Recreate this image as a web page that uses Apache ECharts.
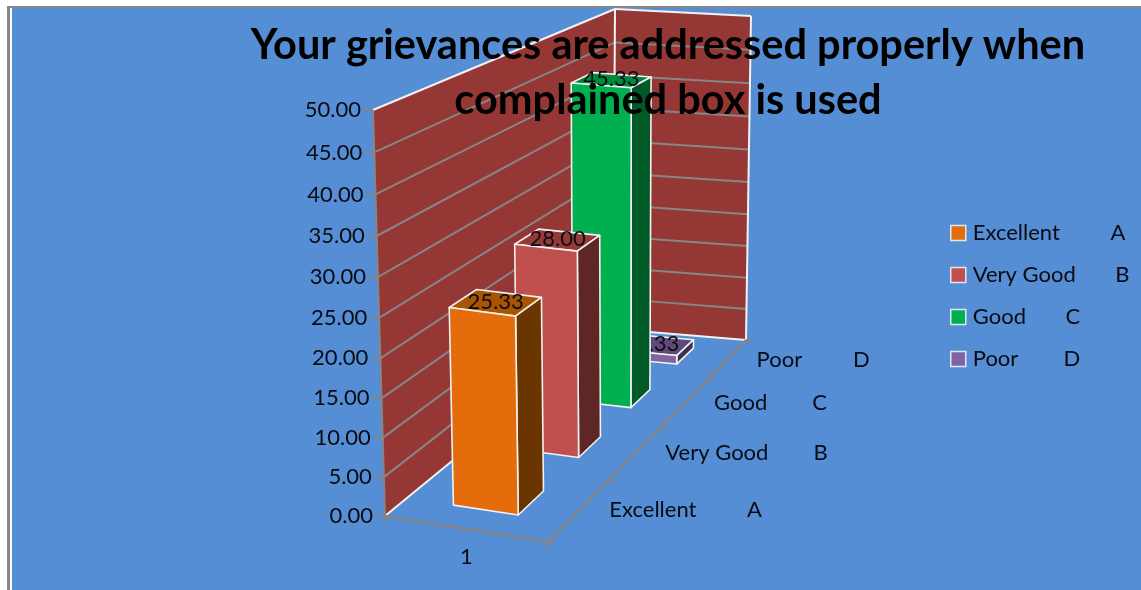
<!DOCTYPE html>
<html>
<head>
<meta charset="utf-8">
<title>Your grievances are addressed properly</title>
<script src="https://cdn.jsdelivr.net/npm/echarts@6/dist/echarts.min.js"></script>
<style>
  html, body { margin: 0; padding: 0; background: #fff; }
  #chart { width: 1141px; height: 590px; }
</style>
</head>
<body>
<div id="chart"></div>
<script>
const titleText = 'Your grievances are addressed properly when\ncomplained box is used';
const rowNames = ['Excellent', 'Very Good', 'Good', 'Poor'];
const axisRowLabels = ['Excellent         A', 'Very Good        B', 'Good        C', 'Poor         D'];
const legendLabels = ['Excellent         A', 'Very Good       B', 'Good       C', 'Poor        D'];
const rowValues = [25.33, 28.00, 45.33, 1.33];
const yTicks = [0, 5, 10, 15, 20, 25, 30, 35, 40, 45, 50];
const xLabels = ['1'];

const frontColors = ['#E46C0A', '#C0504D', '#00B050', '#8064A2'];
const topColors = ['#A85400', '#943A38', '#008A3E', '#604A7B'];
const sideColors = ['#6B3500', '#5E2726', '#005A28', '#40314F'];

const FONT = 'Lato';
const TEXT = '#0b0b12';
const GRAY = '#868686';
const WHITE = '#f2f2f2';

// corners of the 3D box on the page, (u, depth, height)
const box = {
  flb: [385, 516], frb: [548, 542], blb: [613, 329], brb: [746, 340],
  flt: [373, 110], frt: [544, 129], blt: [615, 9], brt: [751, 16]
};
const DEPTH_PERSP = 0.76;
const HEIGHT_PERSP = 1.05;
const BAR_U = [0.29, 0.695];
const BAR_DEPTH = 0.4; // share of the row band

const lerp = (a, b, t) => [a[0] + (b[0] - a[0]) * t, a[1] + (b[1] - a[1]) * t];

function project(u, d, v) {
  const dp = d / (d + DEPTH_PERSP * (1 - d));
  const vp = v / (v + HEIGHT_PERSP * (1 - v));
  const bottom = lerp(lerp(box.flb, box.blb, dp), lerp(box.frb, box.brb, dp), u);
  const top = lerp(lerp(box.flt, box.blt, dp), lerp(box.frt, box.brt, dp), u);
  return lerp(bottom, top, vp);
}

// read the value axis back as a 0..1 height
function heightOf(api, cs, value) {
  return (cs.y + cs.height - api.coord([0, value])[1]) / cs.height;
}

function poly(points, fill, stroke, lineWidth) {
  return {
    type: 'polygon',
    shape: { points: points },
    style: { fill: fill, stroke: stroke || null, lineWidth: lineWidth || 0, lineJoin: 'round' }
  };
}

function seg(a, b, color, width) {
  return {
    type: 'line',
    shape: { x1: a[0], y1: a[1], x2: b[0], y2: b[1] },
    style: { stroke: color, lineWidth: width, fill: null }
  };
}

function label(text, x, y, align) {
  return {
    type: 'text',
    style: {
      text: text, x: x, y: y, fill: TEXT, font: '22px ' + FONT,
      textAlign: align, textVerticalAlign: 'middle'
    }
  };
}

function renderWalls(params, api) {
  const cs = params.coordSys;
  const kids = [
    poly([project(0, 0, 0), project(0, 0, 1), project(0, 1, 1), project(0, 1, 0)], '#953735'),
    poly([project(0, 1, 0), project(0, 1, 1), project(1, 1, 1), project(1, 1, 0)], '#953735')
  ];

  yTicks.forEach((t) => {
    const v = heightOf(api, cs, t);
    const front = project(0, 0, v);
    if (t > 0 && t < 50) {
      kids.push(seg(front, project(0, 1, v), GRAY, 2));
      kids.push(seg(project(0, 1, v), project(1, 1, v), GRAY, 2));
    }
    kids.push(seg(front, [front[0] - 9, front[1]], GRAY, 2));
    kids.push(label(t.toFixed(2), front[0] - 12, front[1], 'right'));
  });

  // wall outline
  kids.push(seg(project(0, 0, 1), project(0, 1, 1), WHITE, 2));
  kids.push(seg(project(0, 1, 1), project(1, 1, 1), WHITE, 2));
  kids.push(seg(project(1, 1, 1), project(1, 1, 0), WHITE, 2));
  kids.push(seg(project(0, 1, 1), project(0, 1, 0), WHITE, 2));
  kids.push(seg(project(0, 0, 0), project(0, 1, 0), WHITE, 2));
  kids.push(seg(project(0, 1, 0), project(1, 1, 0), WHITE, 2));
  kids.push(seg(project(0, 0, 0), project(0, 0, 1), GRAY, 2));

  // floor axes
  kids.push(seg(project(0, 0, 0), project(1, 0, 0), GRAY, 2.5));
  kids.push(seg(project(1, 0, 0), project(1, 1, 0), GRAY, 2.5));
  [project(0, 0, 0), project(1, 0, 0)].forEach((p) => {
    kids.push(seg(p, [p[0], p[1] + 7], GRAY, 2));
  });

  const band = api.size([1, 0])[0] / cs.width;
  axisRowLabels.forEach((name, i) => {
    const mid = (api.coord([i, 0])[0] - cs.x) / cs.width;
    const p = project(1, mid, 0);
    kids.push(label(name, p[0] + 30, p[1], 'left'));
  });
  for (let i = 0; i <= axisRowLabels.length; i++) {
    const p = project(1, i * band, 0);
    kids.push(seg(p, [p[0] + 7, p[1]], GRAY, 2));
  }

  const one = project(0.5, 0, 0);
  kids.push(label(xLabels[0], one[0], one[1] + 28, 'center'));

  return { type: 'group', children: kids };
}

function renderBar(params, api) {
  const cs = params.coordSys;
  const row = api.value(0);
  const value = api.value(1);
  const band = api.size([1, 0])[0] / cs.width;
  const mid = (api.coord([row, 0])[0] - cs.x) / cs.width;
  const d0 = mid - band * BAR_DEPTH / 2;
  const d1 = mid + band * BAR_DEPTH / 2;
  const v = heightOf(api, cs, value);
  const u0 = BAR_U[0];
  const u1 = BAR_U[1];

  const lines = { stroke: WHITE, width: 1.6 };
  const top = [project(u0, d0, v), project(u1, d0, v), project(u1, d1, v), project(u0, d1, v)];
  const side = [project(u1, d0, 0), project(u1, d0, v), project(u1, d1, v), project(u1, d1, 0)];
  const front = [project(u0, d0, 0), project(u0, d0, v), project(u1, d0, v), project(u1, d0, 0)];
  const cx = (top[0][0] + top[1][0] + top[2][0] + top[3][0]) / 4;
  const cy = (top[0][1] + top[1][1] + top[2][1] + top[3][1]) / 4;

  return {
    type: 'group',
    children: [
      poly(top, topColors[row], lines.stroke, lines.width),
      poly(side, sideColors[row], lines.stroke, lines.width),
      poly(front, frontColors[row], lines.stroke, lines.width),
      label(value.toFixed(2), cx, cy - 1, 'center')
    ]
  };
}

const barSeries = rowNames.map((name, i) => ({
  name: legendLabels[i],
  type: 'custom',
  z: 6 - i,
  clip: false,
  silent: true,
  itemStyle: { color: frontColors[i] },
  renderItem: renderBar,
  encode: { x: 0, y: 1 },
  data: [[i, rowValues[i]]]
}));

const chart = echarts.init(document.getElementById('chart'));
chart.setOption({
  animation: false,
  backgroundColor: '#fff',
  textStyle: { fontFamily: FONT },
  title: {
    text: titleText,
    left: 663,
    top: 13,
    textAlign: 'center',
    z: 20,
    textStyle: { fontFamily: FONT, fontSize: 41.5, fontWeight: 'bold', color: '#000', lineHeight: 55 }
  },
  legend: {
    orient: 'vertical',
    left: 950,
    top: 222,
    padding: 0,
    itemWidth: 15,
    itemHeight: 15,
    itemGap: 20,
    icon: 'rect',
    data: legendLabels,
    selectedMode: false,
    itemStyle: { borderColor: '#dfe7f3', borderWidth: 1.5 },
    textStyle: { fontFamily: FONT, fontSize: 22, color: TEXT, padding: [0, 0, 0, 2] }
  },
  graphic: [
    { type: 'rect', z: -2, shape: { x: 7, y: 6, width: 1134, height: 584 }, style: { fill: GRAY } },
    { type: 'rect', z: -2, shape: { x: 10, y: 8, width: 1131, height: 582 }, style: { fill: '#fff' } },
    { type: 'rect', z: -2, shape: { x: 12, y: 8, width: 1129, height: 582 }, style: { fill: '#558ED5' } }
  ],
  grid: { left: 385, top: 110, width: 163, height: 406 },
  xAxis: { type: 'category', data: rowNames, show: false },
  yAxis: { type: 'value', min: 0, max: 50, interval: 5, show: false },
  series: [
    {
      type: 'custom',
      name: 'walls',
      z: 1,
      clip: false,
      silent: true,
      renderItem: renderWalls,
      encode: { x: 0, y: 1 },
      data: [[0, 0]]
    }
  ].concat(barSeries)
});

window.addEventListener('resize', () => chart.resize());
</script>
</body>
</html>
